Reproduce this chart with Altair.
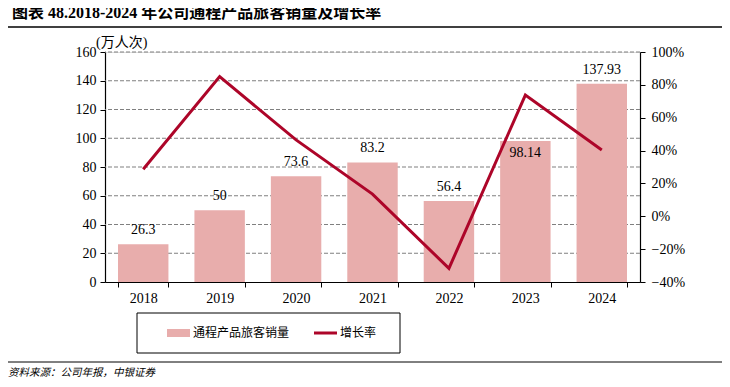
import altair as alt
import pandas as pd

years = ["2018", "2019", "2020", "2021", "2022", "2023", "2024"]
sales = [26.3, 50, 73.6, 83.2, 56.4, 98.14, 137.93]
growth = [0.286, 0.85, 0.465, 0.135, -0.317, 0.738, 0.403]
labels = ["26.3", "50", "73.6", "83.2", "56.4", "98.14", "137.93"]
inside_label_year = ["2023"]
left_ticks = [0, 20, 40, 60, 80, 100, 120, 140, 160]
right_ticks = [-0.4, -0.2, 0, 0.2, 0.4, 0.6, 0.8, 1.0]

title_text = "图表 48.2018-2024 年公司通程产品旅客销量及增长率"
unit_text = "(万人次)"
legend_bar = "通程产品旅客销量"
legend_line = "增长率"
source_text = "资料来源：公司年报，中银证券"

df = pd.DataFrame({"year": years, "sales": sales, "growth": growth, "label": labels})
grid_df = pd.DataFrame({"gv": left_ticks[1:]})

SERIF = "Liberation Serif, Noto Sans CJK SC"
CJK = "Noto Sans CJK SC, Liberation Serif"
BAR = "#E8ADAC"
LINE = "#AD0529"

base = alt.Chart(df)

x_enc = alt.X("year:N", sort=years, title=None,
              scale=alt.Scale(paddingInner=0.34, paddingOuter=0.17),
              axis=alt.Axis(labelAngle=0, tickBand="extent", domainColor="black",
                            tickColor="black", tickSize=5, labelFont=SERIF,
                            labelFontSize=14, labelColor="black", labelPadding=4,
                            domainWidth=1.2))

left_scale = alt.Scale(domain=[0, 160], nice=False, zero=True)
left_axis = alt.Axis(orient="left", values=left_ticks, grid=False,
                     domainColor="black", tickColor="black", tickSize=5,
                     labelFont=SERIF, labelFontSize=14, labelColor="black",
                     labelPadding=4, domainWidth=1.2, labelOverlap=False)
y_left = alt.Y("sales:Q", title=None, scale=left_scale, axis=left_axis)

grid = alt.Chart(grid_df).mark_rule(color="#808080", strokeWidth=1.2, strokeDash=[4, 2]).encode(
    y=alt.Y("gv:Q", title=None, scale=left_scale, axis=left_axis))

bars = base.mark_bar(color=BAR).encode(x=x_enc, y=y_left)

lab_out = base.transform_filter(
    ~alt.FieldOneOfPredicate(field="year", oneOf=inside_label_year)
).mark_text(dy=-14, baseline="middle", font=SERIF, fontSize=14, color="black").encode(
    x=x_enc, y=y_left, text="label:N")

lab_in = base.transform_filter(
    alt.FieldOneOfPredicate(field="year", oneOf=inside_label_year)
).mark_text(dy=12, baseline="middle", font=SERIF, fontSize=14, color="black").encode(
    x=x_enc, y=y_left, text="label:N")

left = alt.layer(grid, bars, lab_out, lab_in)

line = base.mark_line(color=LINE, strokeWidth=3).encode(
    x=x_enc,
    y=alt.Y("growth:Q", title=None,
            scale=alt.Scale(domain=[-0.4, 1.0], nice=False, zero=False),
            axis=alt.Axis(orient="right", values=right_ticks,
                          format=".0%", grid=False, domainColor="black", tickColor="black",
                          tickSize=5, labelFont=SERIF, labelFontSize=14, labelColor="black",
                          labelPadding=6, domainWidth=1.2, labelOverlap=False)))

one = alt.Chart(pd.DataFrame({"k": [0]}))

def txt(s, x, y, size, font=CJK, weight="normal", style="normal", align="left"):
    return one.mark_text(text=s, font=font, fontSize=size, fontWeight=weight,
                         fontStyle=style, align=align, baseline="middle",
                         color="black").encode(x=alt.value(x), y=alt.value(y))

title = txt(title_text, -93, -39, 16, font=SERIF, weight="bold")
title_rule = one.mark_rule(color="black", strokeWidth=1.5).encode(
    x=alt.value(-105), x2=alt.value(617), y=alt.value(-25))
unit = txt(unit_text, -9, -9, 14, font=SERIF)
legend_box = one.mark_rect(fill="white", stroke="black", strokeWidth=1).encode(
    x=alt.value(32), x2=alt.value(295), y=alt.value(261), y2=alt.value(301))
legend_swatch = one.mark_rect(fill=BAR).encode(
    x=alt.value(62), x2=alt.value(85), y=alt.value(277), y2=alt.value(285))
legend_t1 = txt(legend_bar, 88, 281, 12)
legend_ln = one.mark_rule(color=LINE, strokeWidth=3).encode(
    x=alt.value(209), x2=alt.value(232), y=alt.value(281))
legend_t2 = txt(legend_line, 235, 281, 12)
bottom_rule = one.mark_rule(color="black", strokeWidth=1).encode(
    x=alt.value(-100), x2=alt.value(617), y=alt.value(310))
source = txt(source_text, -97, 321, 10.5, style="italic")

chart = alt.layer(
    left, line, title, title_rule, unit, legend_box, legend_swatch, legend_t1,
    legend_ln, legend_t2, bottom_rule, source
).resolve_scale(y="independent").properties(
    width=535, height=230,
    autosize=alt.AutoSizeParams(type="none"),
    padding={"left": 97, "top": 44, "right": 82, "bottom": 97},
).configure_view(strokeWidth=0).configure(background="white")

chart.save("out.html", embed_options={"renderer": "svg", "actions": False})
